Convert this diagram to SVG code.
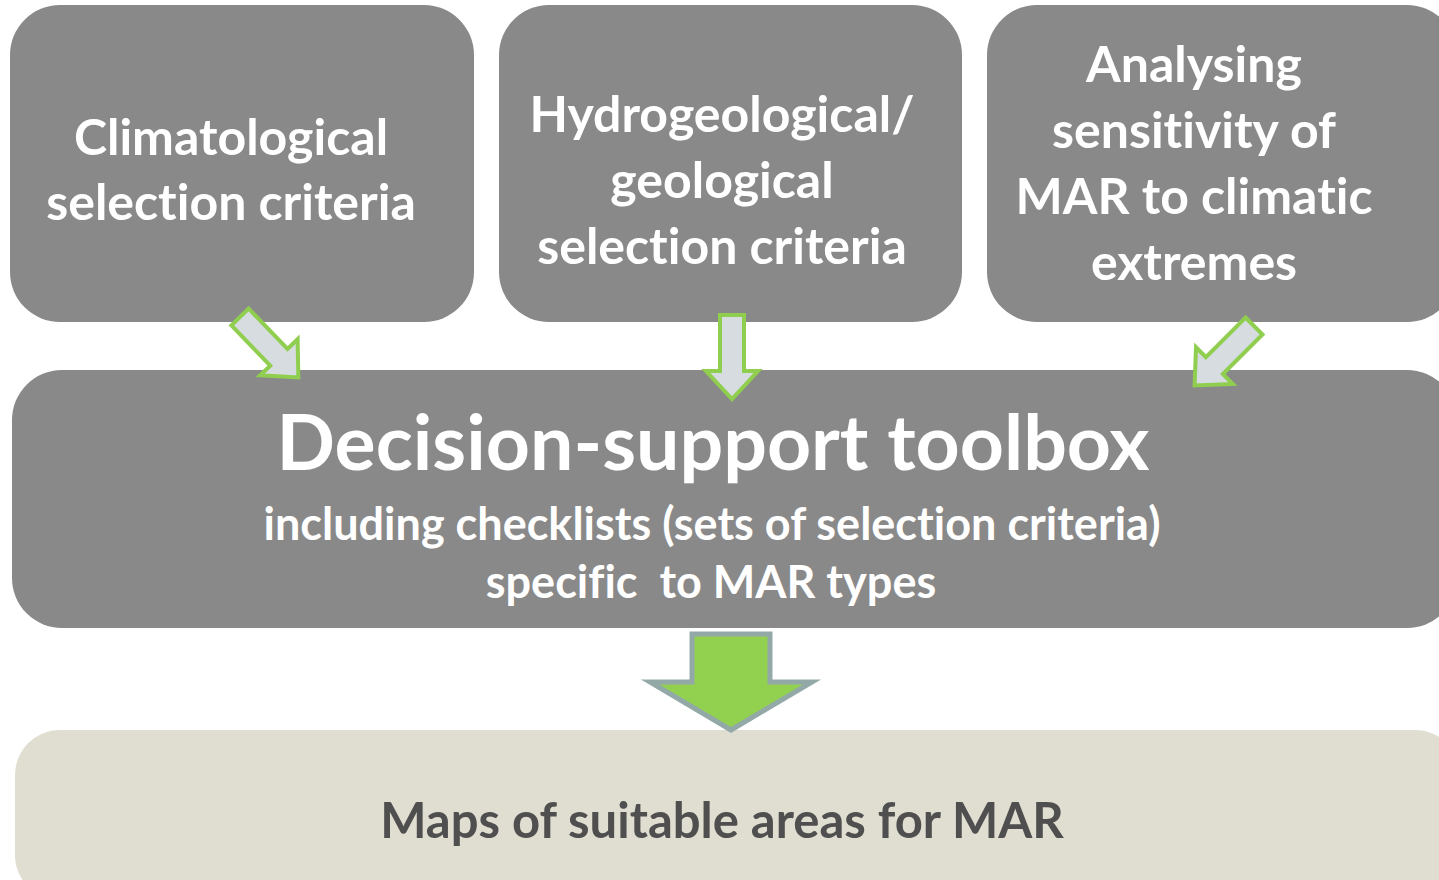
<svg xmlns="http://www.w3.org/2000/svg" width="1439" height="880" viewBox="0 0 1439 880">
<style>
.box{fill:#898989}
.bot{fill:#e0ddd1}
.t{font-family:Lato,"Open Sans","DejaVu Sans",sans-serif;font-weight:bold;fill:#ffffff;text-anchor:middle;font-variant-ligatures:none}
.s{font-size:50px}
.arr{fill:#d6dcdf;stroke:#8fce4e;stroke-width:4;stroke-linejoin:miter}
.big{fill:#92d050;stroke:#93a9a8;stroke-width:5}
</style>
<defs>
<path id="a" d="M-12,0 H12 V56 H26 L0,84 L-26,56 H-12 Z"/>
</defs>
<rect width="1439" height="880" fill="#ffffff"/>
<g id="climate">
<rect class="box" x="10" y="5" width="464" height="317" rx="50"/>
<text class="t s" x="231" y="155">Climatological</text>
<text class="t s" x="231" y="220">selection criteria</text>
</g>
<g id="hydro">
<rect class="box" x="499" y="5" width="463" height="317" rx="50"/>
<text class="t s" x="722" y="132">Hydrogeological/</text>
<text class="t s" x="722" y="198">geological</text>
<text class="t s" x="722" y="264">selection criteria</text>
</g>
<g id="sensitivity">
<rect class="box" x="987" y="5" width="470" height="317" rx="50"/>
<text class="t s" x="1194" y="82">Analysing</text>
<text class="t s" x="1194" y="148">sensitivity of</text>
<text class="t s" x="1194" y="214">MAR to climatic</text>
<text class="t s" x="1194" y="280">extremes</text>
</g>
<g id="toolbox">
<rect class="box" x="12" y="370" width="1445" height="258" rx="50"/>
<text class="t" x="713" y="470" font-size="77">Decision-support toolbox</text>
<text class="t" x="712" y="540" font-size="45">including checklists (sets of selection criteria)</text>
<text class="t" x="711" y="598" font-size="45" xml:space="preserve">specific  to MAR types</text>
</g>
<g id="maps">
<rect class="bot" x="15" y="730" width="1445" height="170" rx="45"/>
<text class="t" x="722" y="838" font-size="49" style="fill:#4f4f4f">Maps of suitable areas for MAR</text>
</g>
<g id="connectors">
<use href="#a" class="arr" transform="translate(240,317) rotate(-44)"/>
<use href="#a" class="arr" transform="translate(732,315)"/>
<use href="#a" class="arr" transform="translate(1254,326) rotate(45)"/>
<path class="big" d="M692,634 H770 V682 H812 L731,730 L650,682 H692 Z"/>
</g>
</svg>
